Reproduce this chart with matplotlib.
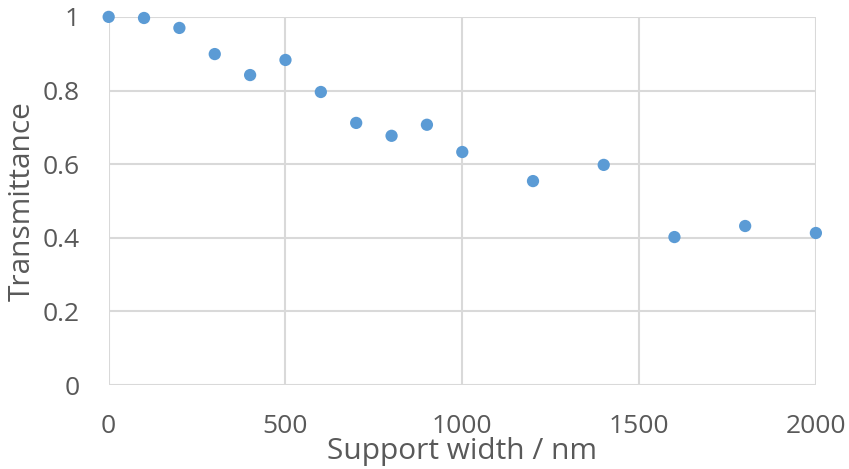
import matplotlib
matplotlib.use("Agg")
import matplotlib.pyplot as plt

# Transmittance measured against support width
support_width_nm = [0, 100, 200, 300, 400, 500, 600, 700, 800, 900,
                    1000, 1200, 1400, 1600, 1800, 2000]
transmittance = [1.00, 0.997, 0.970, 0.899, 0.842, 0.883, 0.796, 0.712,
                 0.677, 0.707, 0.633, 0.554, 0.598, 0.402, 0.432, 0.413]

x_ticks = [0, 500, 1000, 1500, 2000]
y_ticks = [0, 0.2, 0.4, 0.6, 0.8, 1.0]
y_tick_labels = ["0", "0.2", "0.4", "0.6", "0.8", "1"]

TEXT_COLOR = "#595959"
GRID_COLOR = "#D9D9D9"
MARKER_COLOR = "#5B9BD5"

plt.rcParams["font.family"] = ["Open Sans", "DejaVu Sans"]

fig = plt.figure(figsize=(8.49, 4.69), dpi=100)
ax = fig.add_axes([0.128, 0.179, 0.833, 0.785])

ax.scatter(support_width_nm, transmittance, s=78, color=MARKER_COLOR,
           edgecolors="none", zorder=3, clip_on=False)

ax.set_xlim(0, 2000)
ax.set_ylim(0, 1)
ax.set_xticks(x_ticks)
ax.set_yticks(y_ticks)
ax.set_yticklabels(y_tick_labels)

ax.grid(True, color=GRID_COLOR, linewidth=1.5)
ax.set_axisbelow(True)
for spine in ax.spines.values():
    spine.set_visible(False)

ax.tick_params(axis="both", length=0, labelsize=19, labelcolor=TEXT_COLOR)
ax.tick_params(axis="x", pad=21)
ax.tick_params(axis="y", pad=21)

ax.set_xlabel("Support width / nm", fontsize=21.5, color=TEXT_COLOR)
ax.set_ylabel("Transmittance", fontsize=21.5, color=TEXT_COLOR)
ax.xaxis.set_label_coords(0.5, -0.142)
ax.yaxis.set_label_coords(-0.102, 0.5)

fig.savefig("out.png", dpi=100)
